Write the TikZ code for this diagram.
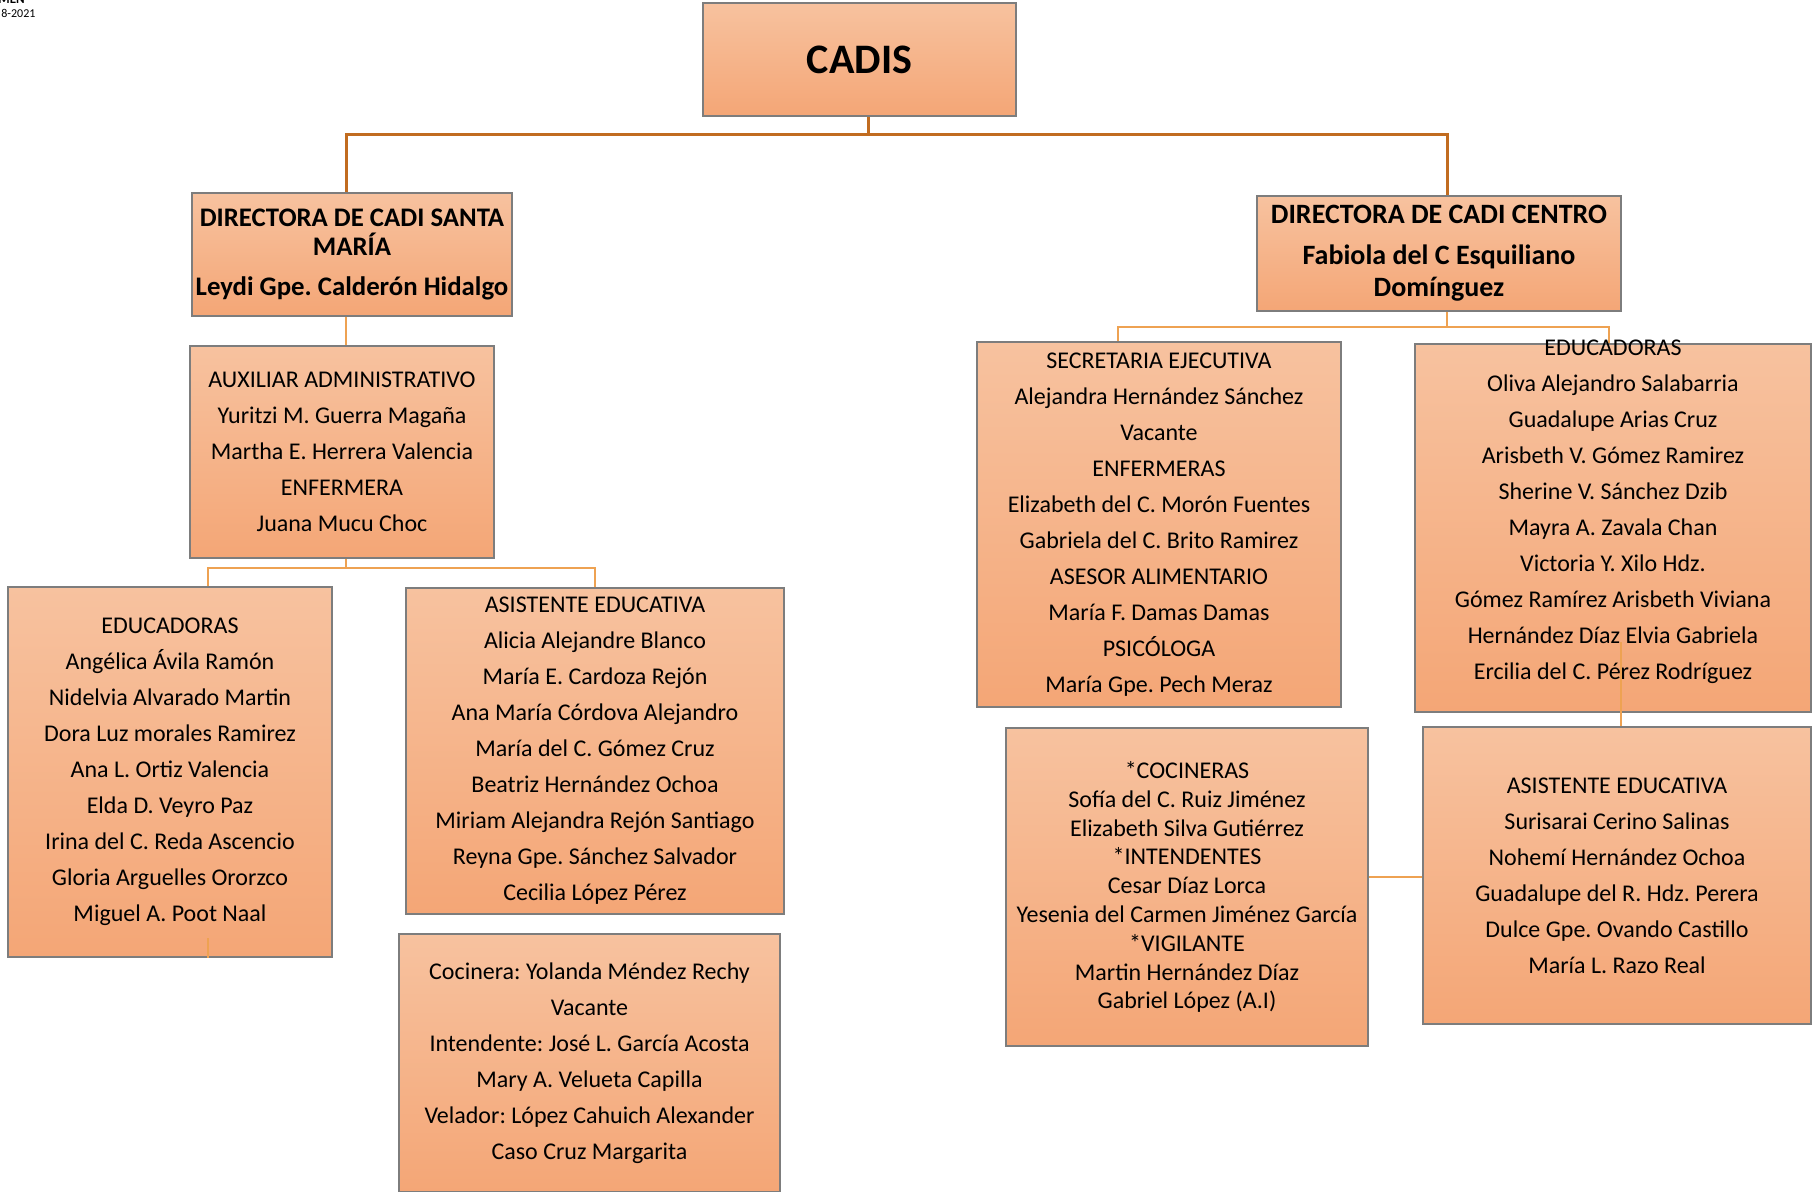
\documentclass[tikz,border=0pt]{standalone}
\usepackage{fontspec}
\setmainfont{Carlito}
\frenchspacing
\definecolor{boxtop}{RGB}{247,194,159}
\definecolor{boxbot}{RGB}{244,166,118}
\definecolor{boxline}{RGB}{125,125,125}
\definecolor{linkdark}{RGB}{193,108,32}
\definecolor{linklight}{RGB}{238,162,82}
\begin{document}
\begin{tikzpicture}[x=0.5pt,y=-0.5pt,
  orgbox/.style={draw=boxline, line width=0.9pt, rectangle, inner sep=0pt,
    top color=boxtop, bottom color=boxbot, align=center,
    font=\frenchspacing\fontsize{12}{18}\selectfont},
  plain/.style={inner sep=0pt, align=center, font=\frenchspacing\fontsize{12}{18}\selectfont},
  darklink/.style={draw=linkdark, line width=1.5pt},
  lightlink/.style={draw=linklight, line width=1pt}]
\useasboundingbox (0,0) rectangle (1817,1191);
\fill[white] (0,0) rectangle (1817,1191);

% header fragments
\node[anchor=base west, inner sep=0pt, font=\bfseries\fontsize{6.5}{7}\selectfont] (hdr) at (-2,3) {MEN};
\node[anchor=base west, inner sep=0pt, font=\fontsize{6}{7}\selectfont] (yr) at (1,17) {8-2021};

% boxes
\node[orgbox, minimum width=156.5pt, minimum height=56.5pt, font=\bfseries\fontsize{21}{25}\selectfont] (cadis) at (859.5,59.5) {CADIS};

\node[orgbox, minimum width=160pt, minimum height=61.5pt, font=\frenchspacing\bfseries\fontsize{13.4}{14.5}\selectfont] (dirL) at (352,254.5)
  {DIRECTORA DE CADI SANTA\\MARÍA\\[5.5pt]Leydi Gpe. Calderón Hidalgo};

\node[orgbox, minimum width=182pt, minimum height=57.5pt, font=\frenchspacing\bfseries\fontsize{14}{16}\selectfont] (dirR) at (1439,253.5)
  {DIRECTORA DE CADI CENTRO\\[4.5pt]Fabiola del C Esquiliano\\Domínguez};

\node[orgbox, minimum width=152pt, minimum height=106pt] (aux) at (342,452)
  {AUXILIAR ADMINISTRATIVO\\Yuritzi M. Guerra Magaña\\Martha E. Herrera Valencia\\ENFERMERA\\Juana Mucu Choc};

\node[orgbox, minimum width=162pt, minimum height=185pt] (eduL) at (170,772)
  {EDUCADORAS\\Angélica Ávila Ramón\\Nidelvia Alvarado Martin\\Dora Luz morales Ramirez\\Ana L. Ortiz Valencia\\Elda D. Veyro Paz\\Irina del C. Reda Ascencio\\Gloria Arguelles Ororzco\\Miguel A. Poot Naal};

\node[orgbox, minimum width=189pt, minimum height=163pt] (asiL) at (595,751)
  {ASISTENTE EDUCATIVA\\Alicia Alejandre Blanco\\María E. Cardoza Rejón\\Ana María Córdova Alejandro\\María del C. Gómez Cruz\\Beatriz Hernández Ochoa\\Miriam Alejandra Rejón Santiago\\Reyna Gpe. Sánchez Salvador\\Cecilia López Pérez};

\node[orgbox, minimum width=190.5pt, minimum height=129pt] (cocL) at (589.5,1063)
  {Cocinera: Yolanda Méndez Rechy\\Vacante\\Intendente: José L. García Acosta\\Mary A. Velueta Capilla\\Velador: López Cahuich Alexander\\Caso Cruz Margarita};

\node[orgbox, minimum width=182pt, minimum height=182.5pt] (sec) at (1159,524.5)
  {SECRETARIA EJECUTIVA\\Alejandra Hernández Sánchez\\Vacante\\ENFERMERAS\\Elizabeth del C. Morón Fuentes\\Gabriela del C. Brito Ramirez\\ASESOR ALIMENTARIO\\María F. Damas Damas\\PSICÓLOGA\\María Gpe. Pech Meraz};

\node[orgbox, minimum width=198pt, minimum height=184pt] (eduR) at (1613,528) {};

\node[orgbox, minimum width=181pt, minimum height=159pt, font=\frenchspacing\fontsize{12}{14.4}\selectfont] (cocR) at (1187,887)
  {*COCINERAS\\Sofía del C. Ruiz Jiménez\\Elizabeth Silva Gutiérrez\\*INTENDENTES\\Cesar Díaz Lorca\\Yesenia del Carmen Jiménez García\\*VIGILANTE\\Martin Hernández Díaz\\Gabriel López (A.I)};

\node[orgbox, minimum width=194pt, minimum height=148.5pt] (asiR) at (1617,875.5)
  {ASISTENTE EDUCATIVA\\Surisarai Cerino Salinas\\Nohemí Hernández Ochoa\\Guadalupe del R. Hdz. Perera\\Dulce Gpe. Ovando Castillo\\María L. Razo Real};

% top-level connectors
\draw[darklink] ([xshift=4.25pt]cadis.south) -- ++(0,18) coordinate (jTop)
  -| ([xshift=-3pt]dirL.north);
\draw[darklink] (jTop) -| ([xshift=4pt]dirR.north);

% left branch
\draw[lightlink] ([xshift=-3pt]dirL.south) -- ([xshift=2pt]aux.north);
\draw[lightlink] ([xshift=2pt]aux.south) -- ++(0,9.5) coordinate (jL) -| ([xshift=19pt]eduL.north);
\draw[lightlink] (jL) -| (asiL.north);
\draw[lightlink] ([xshift=19pt]eduL.south) -- ++(0,-20);

% right branch
\draw[lightlink] ([xshift=4pt]dirR.south) -- ++(0,15) coordinate (jR) -| ([xshift=-20.5pt]sec.north);
\draw[lightlink] (jR) -| ([xshift=-2pt]eduR.north);
\draw[lightlink] ([xshift=2pt]asiR.north) -- ++(0,-84);
\path ([yshift=5pt]cocR.east) coordinate (jC);
\draw[lightlink] (jC) -- (jC -| asiR.west);

% text of right EDUCADORAS box (drawn over the connector)
\node[plain] (eduRt) at (1613,512)
  {EDUCADORAS\\Oliva Alejandro Salabarria\\Guadalupe Arias Cruz\\Arisbeth V. Gómez Ramirez\\Sherine V. Sánchez Dzib\\Mayra A. Zavala Chan\\Victoria Y. Xilo Hdz.\\Gómez Ramírez Arisbeth Viviana\\Hernández Díaz Elvia Gabriela\\Ercilia del C. Pérez Rodríguez};
\end{tikzpicture}
\end{document}
